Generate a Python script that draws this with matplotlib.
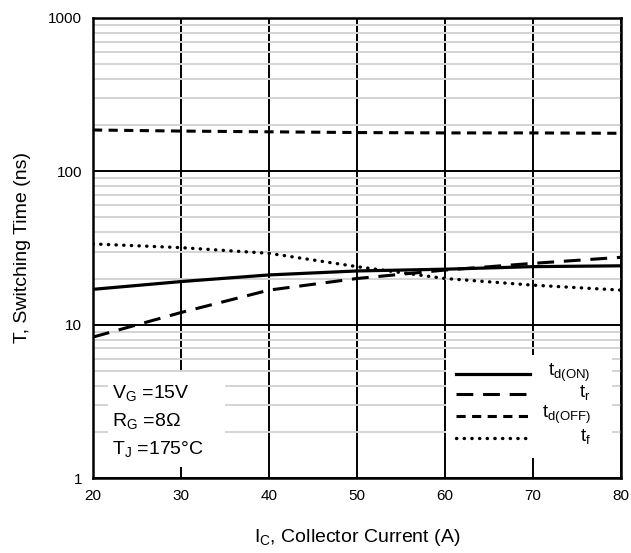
import numpy as np
import matplotlib.pyplot as plt
from matplotlib.patches import Rectangle
from matplotlib.lines import Line2D

plt.rcParams['font.family'] = ['Liberation Sans', 'DejaVu Sans']
plt.rcParams['mathtext.fontset'] = 'custom'
plt.rcParams['mathtext.rm'] = 'Liberation Sans'

# collector current (A)
ic = [20, 30, 40, 50, 60, 70, 80]

# switching times (ns)
t_don = [17.0, 19.1, 21.1, 22.4, 23.0, 23.9, 24.2]
t_r = [8.3, 12.0, 16.8, 20.0, 22.7, 25.1, 27.5]
t_doff = [186, 183, 181, 179, 178, 178, 177]
t_f = [33.6, 31.8, 29.2, 23.9, 20.0, 18.1, 16.8]

fig = plt.figure(figsize=(6.31, 5.53), dpi=100)
ax = fig.add_axes([0.1474, 0.1356, 0.8366, 0.8319])

ax.set_yscale('log')
ax.set_xlim(20, 80)
ax.set_ylim(1, 1000)

ax.set_xticks(range(20, 81, 10))
ax.set_yticks([1, 10, 100, 1000])
ax.set_yticklabels(['1', '10', '100', '1000'])
ax.yaxis.set_minor_locator(plt.LogLocator(base=10, subs=np.arange(2, 10)))
ax.yaxis.set_minor_formatter(plt.NullFormatter())
ax.tick_params(which='both', length=0, labelsize=11, pad=8)

ax.grid(which='minor', axis='y', color='#d4d4d4', lw=1.4, zorder=0)
ax.grid(which='major', axis='both', color='black', lw=1.4, zorder=1)
for s in ax.spines.values():
    s.set_linewidth(1.8)

styles = [
    (t_don, dict(ls='-', lw=2.3)),
    (t_r, dict(ls=(0, (5.5, 3.2)), lw=2.2)),
    (t_doff, dict(ls=(0, (3, 2.1)), lw=2.2)),
    (t_f, dict(ls=(0, (0.1, 2.2)), lw=2.4, dash_capstyle='round')),
]
for vals, st in styles:
    ax.plot(ic, vals, color='black', zorder=3, **st)

# condition box
ax.add_patch(Rectangle((0.028, 0.024), 0.222, 0.206, transform=ax.transAxes,
                       facecolor='white', edgecolor='none', zorder=4))
cond = [r'$\mathregular{V_G}$ =15V', r'$\mathregular{R_G}$ =8Ω', r'$\mathregular{T_J}$ =175°C']
for i, txt in enumerate(cond):
    ax.text(0.036, 0.185 - i * 0.061, txt, transform=ax.transAxes, fontsize=14,
            va='center', ha='left', zorder=5)

# legend
ax.add_patch(Rectangle((0.669, 0.043), 0.314, 0.224, transform=ax.transAxes,
                       facecolor='white', edgecolor='none', zorder=4))
names = [r'$\mathregular{t_{d(ON)}}$', r'$\mathregular{t_r}$',
         r'$\mathregular{t_{d(OFF)}}$', r'$\mathregular{t_f}$']
ys = [0.226, 0.183, 0.135, 0.087]
for (vals, st), name, yy in zip(styles, names, ys):
    ax.add_line(Line2D([0.6875, 0.8277], [yy, yy], transform=ax.transAxes,
                       color='black', zorder=5, **st))
    ax.text(0.943, yy + 0.003, name, transform=ax.transAxes, fontsize=13.5,
            ha='right', va='center', zorder=5)

ax.set_xlabel(r'$\mathregular{I_C}$, Collector Current (A)', fontsize=14, labelpad=17)
ax.set_ylabel('T, Switching Time (ns)', fontsize=14, labelpad=12)

fig.savefig('out.png', dpi=100)
